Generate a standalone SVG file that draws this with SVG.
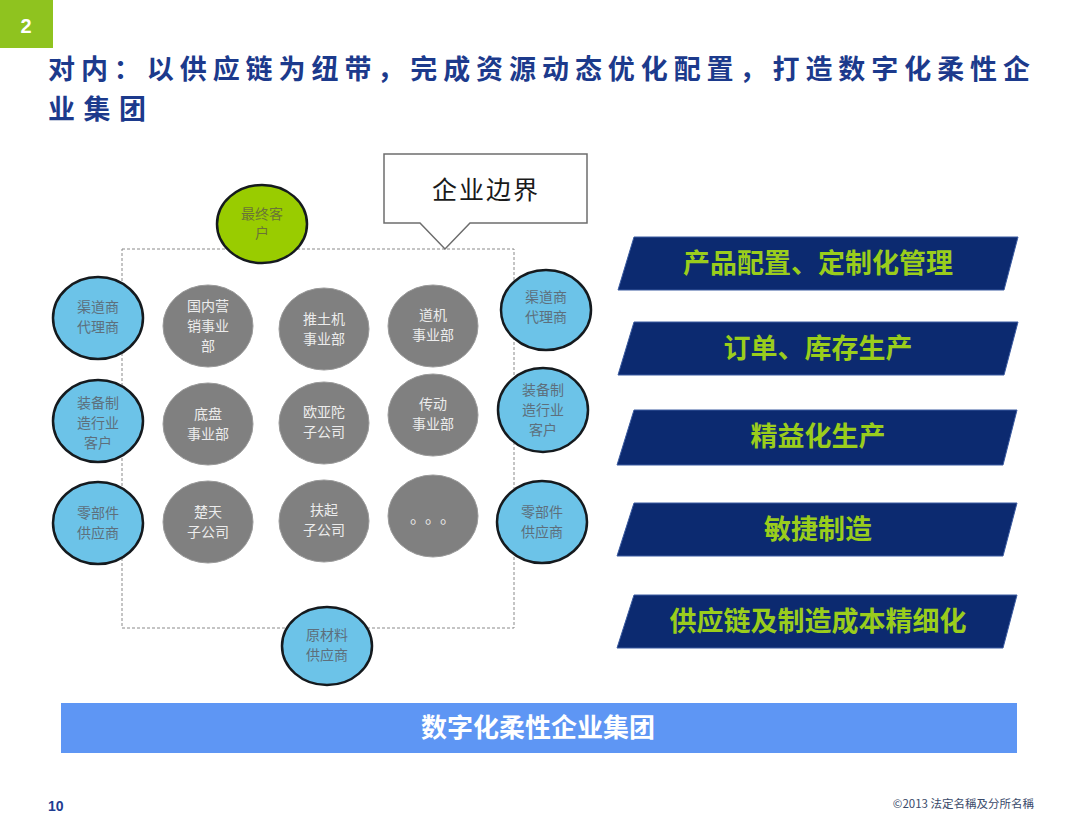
<svg xmlns="http://www.w3.org/2000/svg" width="1080" height="834" viewBox="0 0 1080 834">
<style>
.cjk{font-family:"Noto Sans CJK SC","Liberation Sans",sans-serif}
.title{font-size:27px;font-weight:bold;fill:#1c3a8c}
.gray ellipse{fill:#808080;stroke:#9a9a9a;stroke-width:1}
.gray text{font-size:14px;fill:#ececec;text-anchor:middle}
.blue ellipse{fill:#6cc3e8;stroke:#151a1e;stroke-width:2.5}
.blue text{font-size:14px;fill:#5d6f7c;text-anchor:middle}
.green ellipse{fill:#99cc00;stroke:#151a1e;stroke-width:2.5}
.green text{font-size:14px;fill:#6a7436;text-anchor:middle}
.bar polygon{fill:#0c2a70;stroke:#3a5aa0;stroke-width:1}
.bar text{font-size:27px;font-weight:bold;fill:#9acd1c;text-anchor:middle}
</style>
<rect width="1080" height="834" fill="#ffffff"/>
<g id="badge">
<rect x="0" y="0" width="53" height="48" fill="#8fc31f"/>
<text x="26" y="33" font-family="Liberation Sans, sans-serif" font-size="20" font-weight="bold" fill="#ffffff" text-anchor="middle">2</text>
</g>
<g id="title" class="cjk title">
<text x="48" y="79" textLength="982" lengthAdjust="spacing">对内：以供应链为纽带，完成资源动态优化配置，打造数字化柔性企</text>
<text x="48" y="118.5" textLength="98" lengthAdjust="spacing">业集团</text>
</g>
<g id="boundary">
<rect x="122" y="249" width="392" height="379" fill="none" stroke="#8a8a8a" stroke-width="1" stroke-dasharray="3,2"/>
</g>
<g id="callout">
<path d="M384,154 H587 V223 H470 L445,249 L420,223 H384 Z" fill="#ffffff" stroke="#6d6d6d" stroke-width="1.5"/>
<text x="486" y="199" class="cjk" font-size="25" fill="#1a1a1a" text-anchor="middle" letter-spacing="2">企业边界</text>
</g>
<g id="connectors"></g>
<g id="n-zzkh" class="green cjk"><ellipse cx="262" cy="224" rx="45" ry="39"/><text x="262" y="219">最终客</text><text x="262" y="238">户</text></g>
<g id="n-gnyx" class="gray cjk"><ellipse cx="208" cy="326" rx="45" ry="41"/><text x="208" y="311">国内营</text><text x="208" y="331">销事业</text><text x="208" y="351">部</text></g>
<g id="n-ttj" class="gray cjk"><ellipse cx="324" cy="329" rx="45" ry="41"/><text x="324" y="324">推土机</text><text x="324" y="344">事业部</text></g>
<g id="n-dj" class="gray cjk"><ellipse cx="433" cy="326" rx="45" ry="41"/><text x="433" y="320">道机</text><text x="433" y="340">事业部</text></g>
<g id="n-dp" class="gray cjk"><ellipse cx="208" cy="424" rx="45" ry="41"/><text x="208" y="419">底盘</text><text x="208" y="439">事业部</text></g>
<g id="n-oyt" class="gray cjk"><ellipse cx="324" cy="423" rx="45" ry="41"/><text x="324" y="417">欧亚陀</text><text x="324" y="437">子公司</text></g>
<g id="n-cd" class="gray cjk"><ellipse cx="433" cy="415" rx="45" ry="41"/><text x="433" y="409">传动</text><text x="433" y="429">事业部</text></g>
<g id="n-ct" class="gray cjk"><ellipse cx="208" cy="522" rx="45" ry="41"/><text x="208" y="517">楚天</text><text x="208" y="537">子公司</text></g>
<g id="n-fq" class="gray cjk"><ellipse cx="324" cy="521" rx="45" ry="41"/><text x="324" y="515">扶起</text><text x="324" y="535">子公司</text></g>
<g id="n-etc" class="gray cjk"><ellipse cx="433" cy="516" rx="45" ry="41"/><text x="410" y="523" style="text-anchor:start;font-size:16px" letter-spacing="7">。。。</text></g>
<g id="n-qd-l" class="blue cjk"><ellipse cx="98" cy="318" rx="45" ry="41"/><text x="98" y="312">渠道商</text><text x="98" y="332">代理商</text></g>
<g id="n-zb-l" class="blue cjk"><ellipse cx="98" cy="421" rx="45" ry="41"/><text x="98" y="408">装备制</text><text x="98" y="428">造行业</text><text x="98" y="448">客户</text></g>
<g id="n-lbj-l" class="blue cjk"><ellipse cx="98" cy="523" rx="45" ry="41"/><text x="98" y="518">零部件</text><text x="98" y="538">供应商</text></g>
<g id="n-qd-r" class="blue cjk"><ellipse cx="546" cy="310" rx="45" ry="40"/><text x="546" y="302">渠道商</text><text x="546" y="322">代理商</text></g>
<g id="n-zb-r" class="blue cjk"><ellipse cx="543" cy="410" rx="45" ry="42"/><text x="543" y="395">装备制</text><text x="543" y="415">造行业</text><text x="543" y="435">客户</text></g>
<g id="n-lbj-r" class="blue cjk"><ellipse cx="542" cy="522" rx="45" ry="41"/><text x="542" y="517">零部件</text><text x="542" y="537">供应商</text></g>
<g id="n-ycl" class="blue cjk"><ellipse cx="327" cy="646" rx="45" ry="39"/><text x="327" y="640">原材料</text><text x="327" y="660">供应商</text></g>
<g id="bar1" class="bar cjk"><polygon points="634,237 1018,237 1004,290 618,290"/><text x="818" y="273">产品配置、定制化管理</text></g>
<g id="bar2" class="bar cjk"><polygon points="634,322 1018,322 1004,375 618,375"/><text x="818" y="358">订单、库存生产</text></g>
<g id="bar3" class="bar cjk"><polygon points="634,410 1017,410 1003,465 617,465"/><text x="818" y="446">精益化生产</text></g>
<g id="bar4" class="bar cjk"><polygon points="634,503 1017,503 1003,556 617,556"/><text x="818" y="539">敏捷制造</text></g>
<g id="bar5" class="bar cjk"><polygon points="634,595 1017,595 1003,648 617,648"/><text x="818" y="631">供应链及制造成本精细化</text></g>
<g id="band" class="cjk">
<rect x="61" y="703" width="956" height="50" fill="#5e96f4"/>
<text x="538" y="737" font-size="26" font-weight="bold" fill="#ffffff" text-anchor="middle">数字化柔性企业集团</text>
</g>
<g id="footer">
<text x="48" y="811" font-family="Liberation Sans, sans-serif" font-size="14" font-weight="bold" fill="#1f3d91">10</text>
<text x="1034" y="808" class="cjk" font-size="11.5" fill="#3a4a6a" text-anchor="end">©2013 法定名稱及分所名稱</text>
</g>
</svg>
